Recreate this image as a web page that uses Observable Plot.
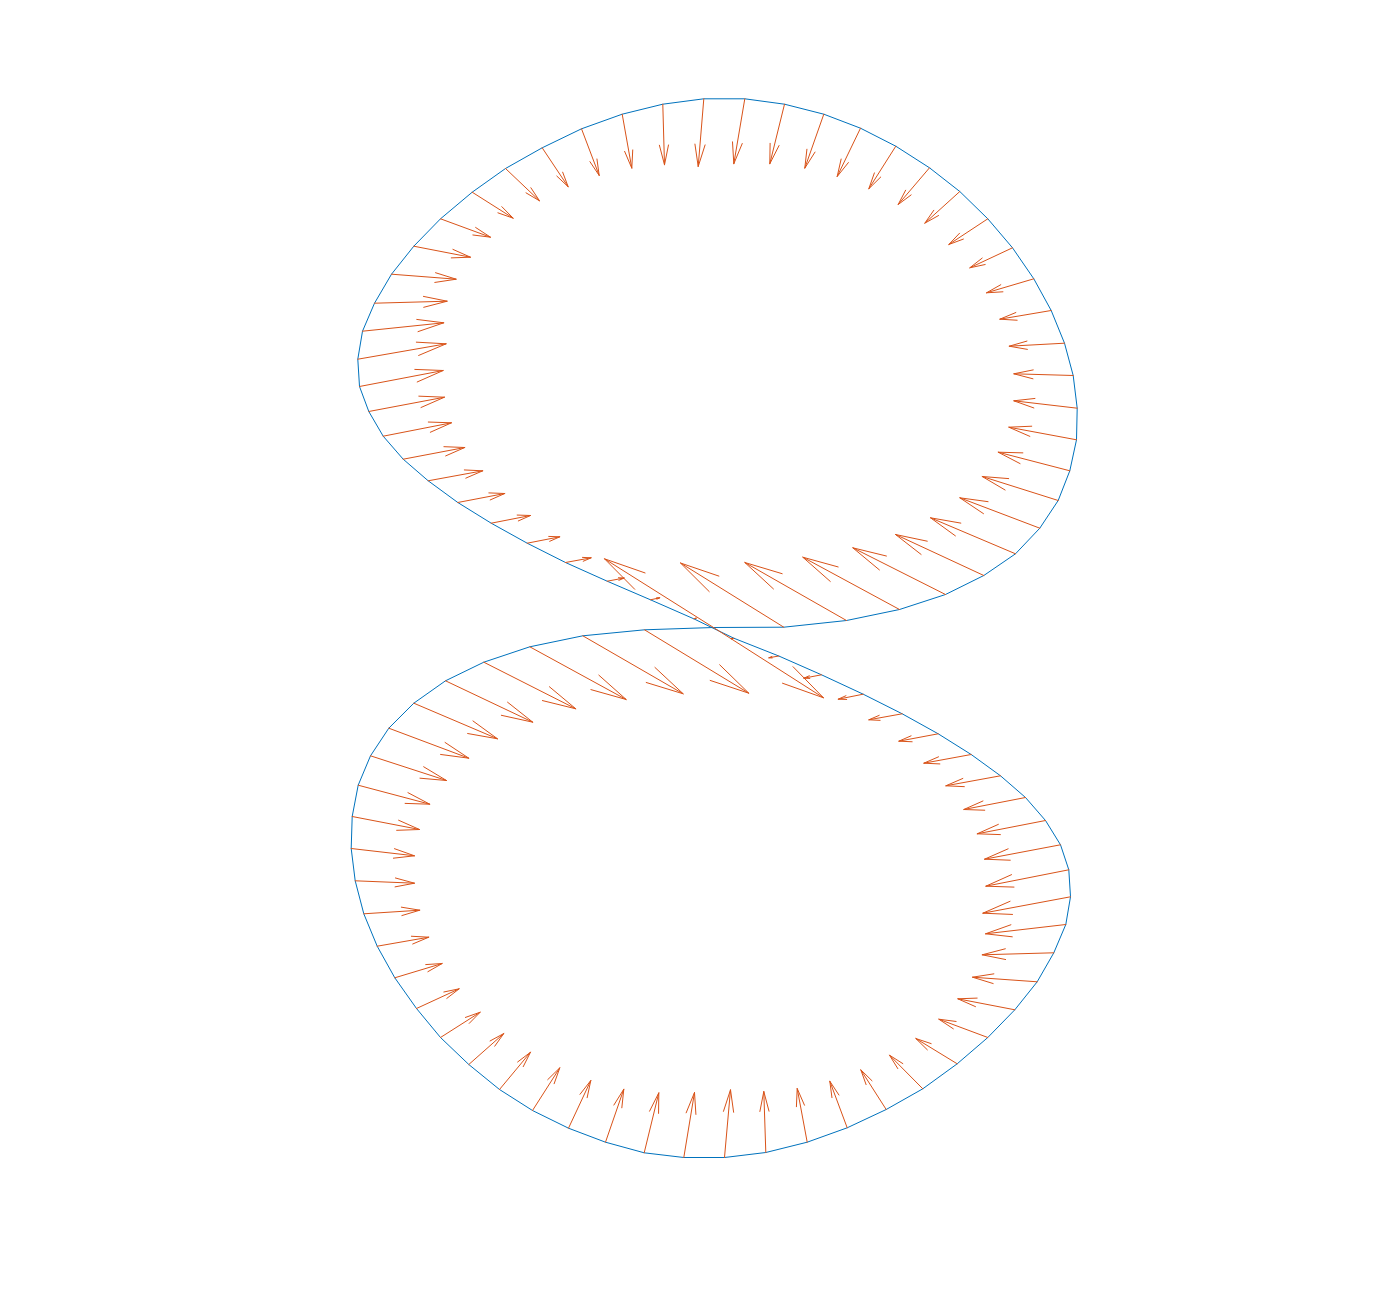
<!DOCTYPE html>
<html>
<head>
<meta charset="utf-8">
<script src="https://cdn.jsdelivr.net/npm/d3@7"></script>
<script src="https://cdn.jsdelivr.net/npm/@observablehq/plot@0.6"></script>
<style>
  html, body { margin: 0; padding: 0; background: #ffffff; }
  #chart svg { display: block; }
</style>
</head>
<body>
<div id="chart"></div>
<script>
// Curve vertices (closed figure-eight; first and last point coincide)
const xs = [0, 70.3, 133, 186, 232, 270.3, 302, 326.3, 344.7, 356.3,
  363, 363.7, 359.7, 351, 337.7, 320.3, 299, 274.3, 246.3, 216,
  182.3, 147, 110.3, 71, 31.3, -9.7, -50.7, -91.3, -132, -171.3,
  -208, -241.3, -273, -299.7, -322, -339, -351, -355.7, -354, -344.7,
  -330.3, -310.3, -285.3, -255.7, -222.3, -186.3, -148, -106.3, -63, -19.7,
  20.3, 65.3, 108, 149.7, 188.7, 224.7, 257.7, 287, 312, 332,
  347, 355.3, 357, 352.3, 340.3, 323.7, 301.3, 274.3, 243.7, 209.3,
  172.7, 133.7, 93.7, 52.3, 11, -29.7, -69.3, -108, -145, -181,
  -214, -244.7, -273, -297, -318.7, -336.3, -349.7, -358.3, -362.3, -361.3,
  -355.3, -343, -324.7, -299.7, -268, -229.7, -183.7, -130.7, -69, 0];
const ys = [0, 0.3, 7, 18, 33, 52, 73.7, 99.3, 127, 156.7,
  187.7, 219.3, 252, 284.3, 317, 348.7, 379.7, 408.7, 436, 459.7,
  481.3, 499.3, 513.3, 523.3, 528.7, 528.7, 523.3, 513.3, 498.7, 479.7,
  459, 435.3, 408.7, 381.3, 353.3, 324.3, 296.3, 268.3, 241, 216,
  191.3, 168.3, 146.7, 125, 104.3, 84.3, 65, 46.3, 27.7, 8.7,
  -10.7, -28.5, -47.3, -66.7, -86.3, -106.3, -127, -148.3, -170, -193,
  -217.3, -242.3, -269.3, -297, -325.3, -354.3, -382.3, -410, -436.3, -461.3,
  -482, -500.3, -514.7, -525, -530, -530, -525.3, -514.7, -500.7, -483,
  -462, -437, -410, -381, -350.3, -318.7, -286.3, -253.3, -221, -189,
  -157.7, -128.3, -100.7, -75.7, -53.3, -34.7, -19.3, -8.3, -2.3, 0];
// Vector components at each vertex
const us = [-109, -103.3, -101.7, -96.7, -92.7, -88.3, -85, -80, -76, -71.6,
  -67.7, -63.4, -59.4, -55.3, -51.4, -47.3, -42.7, -39, -35, -31.3,
  -27, -23.3, -19, -14.7, -11, -5.6, 1.7, 9.6, 17.7, 26,
  34, 41, 50, 56.7, 64.7, 72.7, 81.3, 88.4, 83.7, 75.7,
  68.3, 61.6, 54.6, 47, 39.3, 32.6, 25.7, 17, 9.3, 2.5,
  -2.5, -10, -17.7, -25, -33.4, -39.4, -47.4, -54.7, -61.7, -68.3,
  -76, -83, -87.7, -80.3, -71.6, -64.7, -57, -49, -41.4, -33.3,
  -25.4, -17.4, -10, -2, 6, 10.7, 14.6, 18.3, 22.3, 27.3,
  31, 35, 39.7, 42.7, 47.4, 51.6, 56, 59.3, 63.3, 67.3,
  71.6, 76, 80, 83.7, 87.3, 92, 96.4, 100.4, 104.3, 110];
const vs = [68.7, 64.2, 58, 52.3, 46.7, 41, 36, 30.4, 24, 18.6,
  12.6, 7.4, 1.7, -3, -8.7, -14, -20, -25.7, -31.7, -36.7,
  -42.6, -48.3, -54, -59.6, -65, -67.7, -60.6, -54, -46.7, -39,
  -32.3, -26, -18.4, -11, -5, 2, 8.4, 15.4, 16, 14.3,
  13.4, 11.7, 10, 9, 7.7, 6.4, 4.7, 3.2, 2, 0.6,
  -0.6, -1.8, -3.4, -5, -6, -7.4, -8.7, -10, -12, -13.3,
  -14.4, -16.4, -16.4, -9.3, -2, 4.6, 11, 18.3, 25.3, 33.6,
  39.7, 46.6, 53.7, 61, 67.7, 65, 60, 53, 47.7, 42.7,
  37.3, 31, 25.3, 19.7, 14.3, 9, 3.6, -2.4, -7.3, -13,
  -19, -24.7, -30, -35.6, -41.4, -46.6, -52.7, -58, -63.4, -70.3];

const pts = xs.map((x, i) => ({x, y: ys[i], u: us[i], v: vs[i]}));

const chart = Plot.plot({
  width: 1380,
  height: 1301,
  margin: 0,
  style: {background: "#ffffff"},
  x: {domain: [-713, 667], axis: null},
  y: {domain: [-674, 627], axis: null},
  marks: [
    Plot.line(pts, {x: "x", y: "y", stroke: "#0072BD", strokeWidth: 1}),
    Plot.arrow(pts, {
      x1: "x", y1: "y",
      x2: d => d.x + d.u, y2: d => d.y + d.v,
      stroke: "#D95319", strokeWidth: 1,
      headAngle: 26, headLength: 1000
    })
  ]
});
document.getElementById("chart").appendChild(chart);
</script>
</body>
</html>
